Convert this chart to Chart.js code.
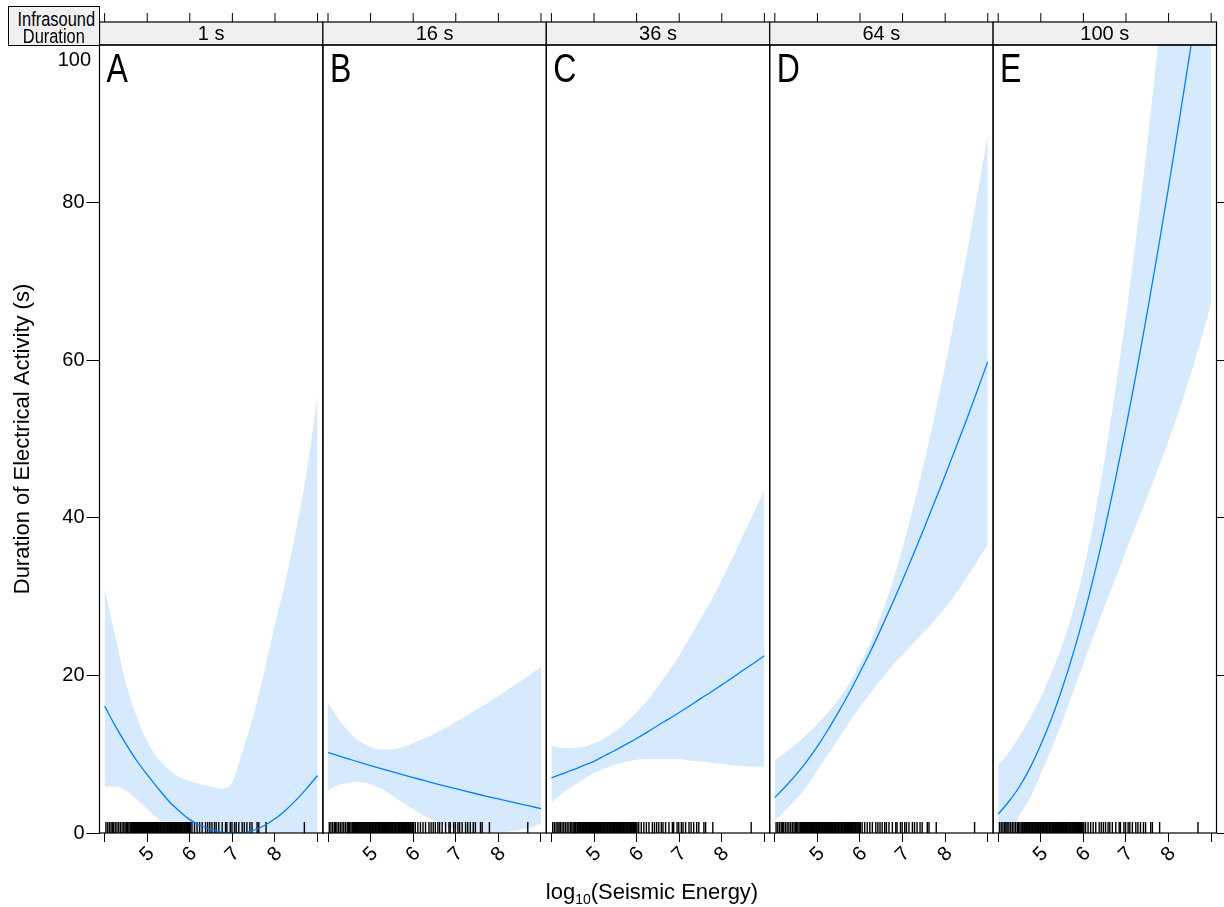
<!DOCTYPE html>
<html>
<head>
<meta charset="utf-8">
<script src="https://cdn.jsdelivr.net/npm/chart.js@4.4.0/dist/chart.umd.min.js"></script>
<style>
  html, body { margin: 0; padding: 0; background: #fff; }
  #wrap { position: relative; width: 1224px; height: 907px; overflow: hidden; font-family: "Liberation Sans", Arial, sans-serif; }
  #wrap canvas { position: absolute; left: 0; top: 0; }
  #facetName {
    position: absolute; left: 8px; top: 6px; width: 91.5px; height: 39.5px; box-sizing: border-box;
    border: 1.5px solid #000; background: #f0f0f0; padding-top: 4px;
    font-size: 20px; line-height: 17px; text-align: center; white-space: nowrap;
  }
  #facetName span { display: inline-block; transform: scaleX(0.82); transform-origin: center; }
  #xTitle { position: absolute; left: 452px; width: 400px; top: 881px; text-align: center; font-size: 22px; line-height: 22px; }
  #xTitle sub { font-size: 14px; line-height: 0; vertical-align: -5px; }
</style>
</head>
<body>
<div id="wrap">
  <canvas id="panel0" width="1224" height="907"></canvas>
  <canvas id="panel1" width="1224" height="907"></canvas>
  <canvas id="panel2" width="1224" height="907"></canvas>
  <canvas id="panel3" width="1224" height="907"></canvas>
  <canvas id="panel4" width="1224" height="907"></canvas>
  <div id="facetName"><span>Infrasound</span><br><span>Duration</span></div>
  <div id="xTitle">log<sub>10</sub>(Seismic Energy)</div>
</div>
<script>
// 数据：面板、网格和拟合曲线
const panelNames = ['1 s', '16 s', '36 s', '64 s', '100 s'];
const panelLetters = ['A', 'B', 'C', 'D', 'E'];
const xTicks = [4, 5, 6, 7, 8, 9];
const xLabelled = [5, 6, 7, 8];
const yTicks = [0, 20, 40, 60, 80, 100];

const energyGrid = [4.0, 4.25, 4.5, 4.75, 5.0, 5.25, 5.5, 5.75, 6.0, 6.25, 6.5, 6.75, 7.0, 7.25, 7.5, 7.75, 8.0, 8.25, 8.5, 8.75, 9.0];

const fitA = [16.1, 13.6, 11.3, 9.2, 7.4, 5.7, 4.1, 2.8, 1.7, 0.95, 0.45, 0.12, 0.0, 0.02, 0.35, 0.95, 1.8, 2.9, 4.2, 5.7, 7.3];
const lowerA = [5.9, 5.9, 5.4, 4.3, 3.0, 1.8, 0.6, 0, 0, 0, 0, 0, 0, 0, 0, 0, 0, 0, 0, 0, 0];
const upperA = [31.0, 25.0, 19.0, 14.8, 11.6, 9.5, 8.1, 7.1, 6.6, 6.2, 5.9, 5.6, 6.5, 10.5, 15.0, 20.5, 26.5, 32.0, 38.5, 46.0, 55.5];

const fitB = [10.2, 9.78, 9.37, 8.96, 8.56, 8.17, 7.78, 7.40, 7.03, 6.67, 6.31, 5.96, 5.62, 5.28, 4.95, 4.63, 4.32, 4.01, 3.70, 3.40, 3.10];
const lowerB = [5.4, 6.1, 6.4, 6.5, 6.2, 5.6, 4.8, 3.9, 3.0, 2.2, 1.5, 0.9, 0.4, 0.1, 0.0, 0.0, 0.1, 0.2, 0.4, 0.7, 1.2];
const upperB = [16.6, 14.4, 12.8, 11.6, 10.9, 10.6, 10.6, 10.9, 11.4, 12.0, 12.6, 13.3, 14.1, 14.9, 15.7, 16.5, 17.4, 18.3, 19.2, 20.1, 21.1];

const fitC = [7.0, 7.5, 8.0, 8.55, 9.1, 9.8, 10.5, 11.25, 12.0, 12.8, 13.65, 14.45, 15.3, 16.15, 17.05, 17.9, 18.8, 19.7, 20.65, 21.55, 22.5];
const lowerC = [3.9, 5.0, 6.0, 6.8, 7.6, 8.2, 8.7, 9.0, 9.3, 9.4, 9.4, 9.4, 9.4, 9.2, 9.1, 8.9, 8.8, 8.6, 8.5, 8.4, 8.4];
const upperC = [11.1, 10.8, 10.8, 10.9, 11.4, 12.0, 12.9, 14.0, 15.3, 16.8, 18.6, 20.5, 22.5, 24.8, 27.1, 29.5, 32.1, 34.9, 37.8, 40.6, 43.5];

const fitD = [4.5, 5.9, 7.4, 9.1, 11.0, 13.1, 15.4, 17.8, 20.4, 23.1, 26.0, 29.0, 32.1, 35.3, 38.6, 42.0, 45.4, 48.9, 52.4, 56.1, 59.8];
const lowerD = [1.6, 2.9, 4.3, 5.9, 8.0, 10.0, 12.0, 14.1, 16.0, 17.8, 19.5, 21.2, 22.6, 24.1, 25.5, 27.0, 28.6, 30.4, 32.4, 34.5, 36.6];
const upperD = [9.2, 10.2, 11.3, 12.5, 13.8, 15.3, 17.0, 19.0, 21.4, 24.3, 27.7, 31.6, 36.2, 41.3, 46.9, 52.9, 59.3, 66.1, 73.3, 80.8, 88.6];

const fitE = [2.4, 4.0, 5.9, 8.3, 11.2, 14.5, 18.3, 22.6, 27.4, 32.7, 38.5, 44.8, 51.5, 58.6, 66.1, 73.9, 82.0, 90.4, 99.0, 107.8, 116.8];
const lowerE = [0, 0, 2.2, 4.5, 7.5, 10.7, 14.1, 17.8, 21.5, 25.2, 28.8, 32.3, 35.8, 39.3, 42.7, 46.2, 49.8, 53.7, 57.9, 62.4, 67.2];
const upperE = [8.6, 10.2, 12.3, 14.6, 17.2, 20.3, 23.8, 28.0, 33.3, 39.8, 47.5, 56.2, 65.7, 76.0, 87.5, 100.0, 113.0, 126.5, 140.0, 154.0, 168.0];

const fits = [fitA, fitB, fitC, fitD, fitE];
const lowers = [lowerA, lowerB, lowerC, lowerD, lowerE];
const uppers = [upperA, upperB, upperC, upperD, upperE];

// 地震能量观测值（地毯图）
const rugEnergy = [
  4.03, 4.07, 4.11, 4.15, 4.18, 4.21, 4.25, 4.29, 4.33, 4.37, 4.41, 4.45, 4.48, 4.51, 4.54, 4.57, 4.60,
  4.62, 4.63, 4.65, 4.67, 4.68, 4.70, 4.72, 4.73, 4.75, 4.77, 4.79, 4.80, 4.82, 4.84, 4.86, 4.87, 4.89,
  4.91, 4.92, 4.94, 4.96, 4.98, 4.99, 5.01, 5.03, 5.05, 5.06, 5.08, 5.10, 5.12, 5.13, 5.15, 5.17, 5.19,
  5.21, 5.22, 5.24, 5.26, 5.28, 5.30, 5.31, 5.33, 5.35, 5.37, 5.39, 5.40, 5.42, 5.44, 5.46, 5.48, 5.49,
  5.51, 5.53, 5.55, 5.57, 5.58, 5.60, 5.62, 5.64, 5.66, 5.68, 5.69, 5.71, 5.73, 5.75, 5.77, 5.78, 5.80,
  5.82, 5.84, 5.86, 5.88, 5.89, 5.91, 5.93, 5.95, 5.97, 5.99, 6.01,
  6.05, 6.11, 6.17, 6.23, 6.29, 6.37, 6.42, 6.47, 6.52, 6.58, 6.62, 6.68, 6.76, 6.84, 6.87, 6.95, 6.99,
  7.05, 7.09, 7.15, 7.23, 7.28, 7.34, 7.41, 7.46, 7.58, 7.62, 7.79, 8.69
];

// 版面设置
const W = 1224, H = 907;
const panelLeft = [99.5, 322.9, 546.3, 769.7, 993.1];
const panelWidth = 223.4;
const PANEL_TOP = 45, PANEL_BOTTOM = 833, STRIP_TOP = 22;
const X_MIN = 3.88, X_MAX = 9.125;
const RUG_Y = 0.7;
const BAND = 'rgb(215, 233, 252)';
const LINE = '#0080ff';
const FONT = '"Liberation Sans", Arial, sans-serif';

Chart.defaults.font.family = FONT;
Chart.defaults.color = '#000';

function toPoints(vals) {
  return energyGrid.map((e, k) => ({ x: e, y: vals[k] }));
}

// 条带、上方刻度、面板边框和字母
const panelDecor = {
  id: 'panelDecor',
  afterDraw(chart, args, opts) {
    const { ctx, chartArea: a } = chart;
    const x = chart.scales.x;
    ctx.save();
    ctx.fillStyle = '#f0f0f0';
    ctx.fillRect(a.left, STRIP_TOP, a.width, a.top - STRIP_TOP);
    ctx.strokeStyle = '#000';
    ctx.lineWidth = 1.2;
    ctx.strokeRect(a.left, STRIP_TOP, a.width, a.top - STRIP_TOP);
    ctx.strokeRect(a.left, a.top, a.width, a.height);

    ctx.beginPath();
    xTicks.forEach(v => {
      const px = x.getPixelForValue(v);
      ctx.moveTo(px, STRIP_TOP);
      ctx.lineTo(px, STRIP_TOP - 9);
    });
    ctx.lineWidth = 1;
    ctx.stroke();

    ctx.fillStyle = '#000';
    ctx.font = '20px ' + FONT;
    ctx.textAlign = 'center';
    ctx.textBaseline = 'middle';
    ctx.fillText(opts.strip, (a.left + a.right) / 2, (STRIP_TOP + a.top) / 2 + 1);

    // 面板字母用窄体（横向压缩）
    ctx.save();
    ctx.translate(a.left + 7, a.top + 37);
    ctx.scale(0.8, 1);
    ctx.font = '40px ' + FONT;
    ctx.textAlign = 'left';
    ctx.textBaseline = 'alphabetic';
    ctx.fillText(opts.letter, 0, 0);
    ctx.restore();

    // 顶端刻度值 100 没有刻度线，标签向下偏移
    if (opts.topLabel) {
      const y = chart.scales.y;
      const top = yTicks[yTicks.length - 1];
      ctx.font = '20px ' + FONT;
      ctx.textAlign = 'right';
      ctx.textBaseline = 'middle';
      ctx.fillText(String(top), a.left - 8.5, y.getPixelForValue(top) + 15);
    }
    ctx.restore();
  }
};

function makePanel(i) {
  const first = i === 0;
  const last = i === panelNames.length - 1;
  const topValue = yTicks[yTicks.length - 1];

  const scales = {
    x: {
      type: 'linear',
      min: X_MIN,
      max: X_MAX,
      afterFit: s => { s.height = H - PANEL_BOTTOM; s.paddingLeft = 0; s.paddingRight = 0; },
      afterBuildTicks: s => { s.ticks = xTicks.map(v => ({ value: v })); },
      ticks: {
        autoSkip: false,
        minRotation: 45,
        maxRotation: 45,
        padding: 0,
        labelOffset: 4,
        font: { size: 20 },
        callback: v => xLabelled.includes(v) ? String(v) : ''
      },
      grid: { drawOnChartArea: false, tickLength: 9, color: '#000', lineWidth: 1 },
      border: { display: false }
    },
    y: {
      min: 0,
      max: topValue,
      display: first,
      afterBuildTicks: s => { s.ticks = yTicks.map(v => ({ value: v })); },
      ticks: {
        padding: 2,
        font: { size: 20 },
        callback: v => v === topValue ? '' : String(v)
      },
      grid: {
        drawOnChartArea: false,
        tickLength: 13,
        lineWidth: 1,
        color: c => (c.tick && c.tick.value === topValue) ? 'rgba(0,0,0,0)' : '#000'
      },
      border: { display: false },
      title: {
        display: true,
        text: 'Duration of Electrical Activity (s)',
        font: { size: 22 },
        padding: { top: 10, bottom: 0 }
      }
    }
  };
  if (first) {
    scales.y.afterFit = s => { s.width = panelLeft[0]; s.paddingTop = 0; s.paddingBottom = 0; };
  }
  if (last) {
    scales.y2 = {
      position: 'right',
      min: 0,
      max: topValue,
      afterFit: s => { s.width = W - (panelLeft[i] + panelWidth); s.paddingTop = 0; s.paddingBottom = 0; },
      afterBuildTicks: s => { s.ticks = yTicks.filter(v => v !== topValue).map(v => ({ value: v })); },
      ticks: { display: false },
      grid: { drawOnChartArea: false, tickLength: 8, color: '#000', lineWidth: 1 },
      border: { display: false }
    };
  }

  return new Chart(document.getElementById('panel' + i), {
    type: 'line',
    data: {
      datasets: [
        {
          data: toPoints(lowers[i]),
          borderWidth: 0, pointRadius: 0, fill: false,
          cubicInterpolationMode: 'monotone'
        },
        {
          data: toPoints(uppers[i]),
          borderWidth: 0, pointRadius: 0, fill: '-1',
          backgroundColor: BAND,
          cubicInterpolationMode: 'monotone'
        },
        {
          data: toPoints(fits[i]),
          borderColor: LINE, borderWidth: 1.3, pointRadius: 0, fill: false,
          cubicInterpolationMode: 'monotone'
        },
        {
          data: rugEnergy.map(v => ({ x: v, y: RUG_Y })),
          showLine: false,
          pointStyle: 'line',
          pointRotation: 90,
          pointRadius: 5.5,
          pointHoverRadius: 5.5,
          pointBorderColor: '#000',
          pointBorderWidth: 1.4
        }
      ]
    },
    options: {
      responsive: false,
      animation: false,
      devicePixelRatio: 1,
      events: [],
      layout: {
        padding: {
          left: first ? 0 : panelLeft[i],
          right: last ? 0 : W - panelLeft[i] - panelWidth,
          top: PANEL_TOP,
          bottom: 0
        }
      },
      scales: scales,
      plugins: {
        legend: { display: false },
        tooltip: { enabled: false },
        filler: { drawTime: 'beforeDatasetsDraw' },
        panelDecor: { strip: panelNames[i], letter: panelLetters[i], topLabel: first }
      }
    },
    plugins: [panelDecor]
  });
}

panelNames.forEach((name, i) => makePanel(i));
</script>
</body>
</html>
